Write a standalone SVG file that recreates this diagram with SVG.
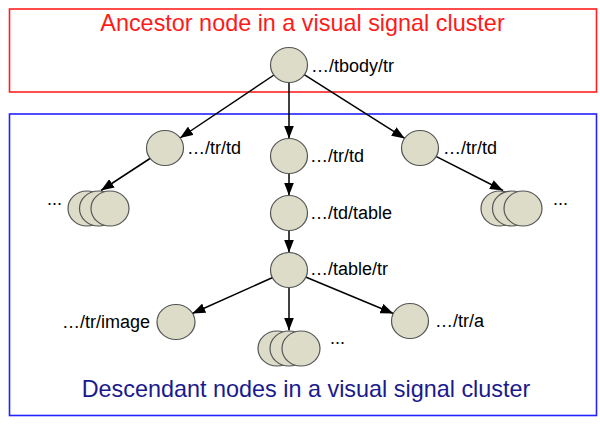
<svg xmlns="http://www.w3.org/2000/svg" width="600" height="424" viewBox="0 0 600 424">
<style>
.n{fill:#dcdcc9;stroke:#555;stroke-width:1.2}
.e{stroke:#000;stroke-width:1.5;fill:none;marker-end:url(#ah)}
.l{font-family:"Liberation Sans",Arial,sans-serif;font-size:18px;fill:#000}
.t{font-family:"Liberation Sans",Arial,sans-serif;font-size:23.4px}
</style>
<defs>
<marker id="ah" markerUnits="userSpaceOnUse" markerWidth="14" markerHeight="10" refX="13" refY="5" orient="auto">
<path d="M0,0 L13,5 L0,10 Z" fill="#000"/>
</marker>
</defs>
<rect x="9.5" y="9" width="587" height="83" fill="none" stroke="#ff2020" stroke-width="1.6"/>
<rect x="9.5" y="114" width="587" height="301.5" fill="none" stroke="#2222ff" stroke-width="1.6"/>
<text class="t" x="302.5" y="31" text-anchor="middle" fill="#ff1a1a">Ancestor node in a visual signal cluster</text>
<text class="t" x="306" y="397" text-anchor="middle" fill="#1a1a8c">Descendant nodes in a visual signal cluster</text>
<g id="connectors">
<line class="e" x1="274" y1="75" x2="180" y2="138"/>
<line class="e" x1="289" y1="83" x2="289" y2="138.5"/>
<line class="e" x1="304.2" y1="74.6" x2="404.8" y2="138.4"/>
<line class="e" x1="150" y1="158.5" x2="101" y2="190.5"/>
<line class="e" x1="436" y1="156.3" x2="503" y2="190.5"/>
<line class="e" x1="289" y1="173.5" x2="289" y2="195.5"/>
<line class="e" x1="289" y1="230.5" x2="289" y2="252.5"/>
<line class="e" x1="272.7" y1="277.5" x2="192.3" y2="313.5"/>
<line class="e" x1="289" y1="287.5" x2="289" y2="330.5"/>
<line class="e" x1="305.6" y1="277" x2="393.4" y2="313.5"/>
</g>
<g id="root"><ellipse class="n" cx="289" cy="65" rx="18.5" ry="17.5"/><text class="l" x="311" y="72">…/tbody/tr</text></g>
<g id="td-left"><ellipse class="n" cx="165" cy="148" rx="18.5" ry="17.5"/><text class="l" x="187" y="154">…/tr/td</text></g>
<g id="td-mid"><ellipse class="n" cx="289" cy="156" rx="18.5" ry="17.5"/><text class="l" x="310" y="162">…/tr/td</text></g>
<g id="td-right"><ellipse class="n" cx="420" cy="148" rx="18.5" ry="17.5"/><text class="l" x="443" y="154">…/tr/td</text></g>
<g id="stack-left">
<ellipse class="n" cx="87" cy="208.5" rx="19" ry="17.5"/>
<ellipse class="n" cx="98.5" cy="208.5" rx="19" ry="17.5"/>
<ellipse class="n" cx="110" cy="208.5" rx="19" ry="17.5"/>
<text class="l" x="47" y="205">...</text>
</g>
<g id="stack-right">
<ellipse class="n" cx="500" cy="208.5" rx="19" ry="17.5"/>
<ellipse class="n" cx="511.5" cy="208.5" rx="19" ry="17.5"/>
<ellipse class="n" cx="523" cy="208.5" rx="19" ry="17.5"/>
<text class="l" x="553" y="205">...</text>
</g>
<g id="td-table"><ellipse class="n" cx="289" cy="213" rx="18.5" ry="17.5"/><text class="l" x="310" y="219">…/td/table</text></g>
<g id="table-tr"><ellipse class="n" cx="289" cy="270" rx="18.5" ry="17.5"/><text class="l" x="310" y="275">…/table/tr</text></g>
<g id="tr-image"><ellipse class="n" cx="176" cy="322" rx="19" ry="17.5"/><text class="l" x="150" y="328" text-anchor="end">…/tr/image</text></g>
<g id="stack-bottom">
<ellipse class="n" cx="277" cy="348.5" rx="19" ry="17.5"/>
<ellipse class="n" cx="289" cy="348.5" rx="19" ry="17.5"/>
<ellipse class="n" cx="301" cy="348.5" rx="19" ry="17.5"/>
<text class="l" x="330" y="344">...</text>
</g>
<g id="tr-a"><ellipse class="n" cx="410" cy="321" rx="18.5" ry="17.5"/><text class="l" x="435" y="327">…/tr/a</text></g>
</svg>
